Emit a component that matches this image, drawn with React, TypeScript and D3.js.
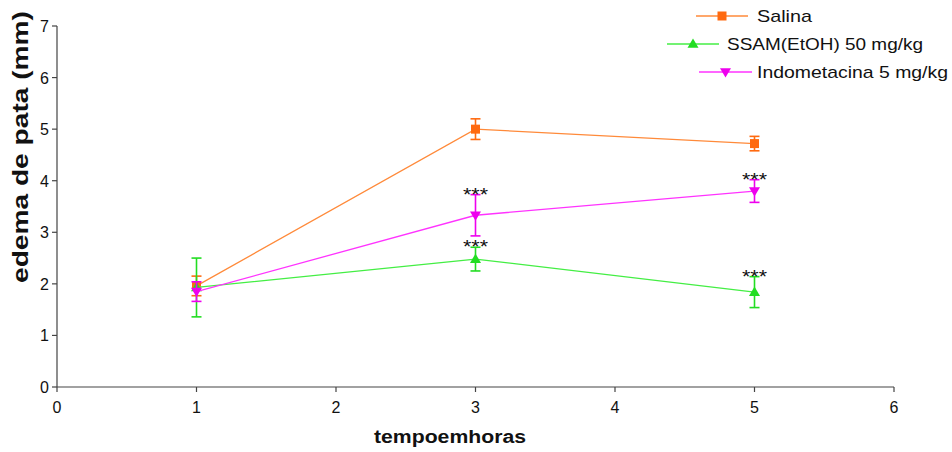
import React from "react";
import * as d3 from "d3";

// Sampling times (hours)
const hours = [1, 3, 5];

// Paw edema (mm) per group, mean and error
const salina = [1.96, 5.0, 4.72];
const salinaErr = [0.19, 0.2, 0.14];
const ssam = [1.93, 2.48, 1.84];
const ssamErr = [0.57, 0.23, 0.3];
const indo = [1.85, 3.33, 3.8];
const indoErr = [0.19, 0.4, 0.22];

// Significance marks vs. saline
const ssamSig = ["", "***", "***"];
const indoSig = ["", "***", "***"];

const xTicks = [0, 1, 2, 3, 4, 5, 6];
const yTicks = [0, 1, 2, 3, 4, 5, 6, 7];

const seriesNames = ["Salina", "SSAM(EtOH) 50 mg/kg", "Indometacina 5 mg/kg"];

const W = 952;
const H = 452;
const x = d3.scaleLinear().domain([0, 6]).range([57, 894]);
const y = d3.scaleLinear().domain([0, 7]).range([387, 26]);

const FONT = "'Liberation Sans', Arial, sans-serif";

type Series = {
  name: string;
  values: number[];
  errs: number[];
  sig: string[] | null;
  line: string;
  fill: string;
  marker: "square" | "up" | "down";
  legend: { x1: number; x2: number; y: number; tx: number; tw: number };
};

const series: Series[] = [
  {
    name: seriesNames[0],
    values: salina,
    errs: salinaErr,
    sig: null,
    line: "#ff8a3a",
    fill: "#ff6a10",
    marker: "square",
    legend: { x1: 696, x2: 748, y: 16, tx: 757, tw: 55 },
  },
  {
    name: seriesNames[1],
    values: ssam,
    errs: ssamErr,
    sig: ssamSig,
    line: "#44ee44",
    fill: "#22dd22",
    marker: "up",
    legend: { x1: 667, x2: 719, y: 44, tx: 727, tw: 196 },
  },
  {
    name: seriesNames[2],
    values: indo,
    errs: indoErr,
    sig: indoSig,
    line: "#ff33ff",
    fill: "#ee00ee",
    marker: "down",
    legend: { x1: 699, x2: 752, y: 72, tx: 757, tw: 191 },
  },
];

function Marker({ kind, cx, cy, fill }: { kind: Series["marker"]; cx: number; cy: number; fill: string }) {
  if (kind === "square") {
    return <rect x={cx - 4.5} y={cy - 4.5} width={9} height={9} fill={fill} />;
  }
  const s = 5.5;
  const pts =
    kind === "up"
      ? `${cx},${cy - s} ${cx - s},${cy + s * 0.7} ${cx + s},${cy + s * 0.7}`
      : `${cx},${cy + s} ${cx - s},${cy - s * 0.7} ${cx + s},${cy - s * 0.7}`;
  return <polygon points={pts} fill={fill} />;
}

export default function App() {
  const line = d3
    .line<number>()
    .x((_, i) => x(hours[i]))
    .y((d) => y(d));

  return (
    <svg
      width={W}
      height={H}
      style={{ position: "absolute", left: 0, top: 0, background: "#fff" }}
      fontFamily={FONT}
    >
      {/* axes */}
      <g stroke="#444" strokeWidth={1.2} fill="none">
        <line x1={x(0)} x2={x(0)} y1={y(0)} y2={y(7)} />
        <line x1={x(0)} x2={x(6)} y1={y(0)} y2={y(0)} />
        {yTicks.map((t) => (
          <line key={"yt" + t} x1={x(0) - 5} x2={x(0)} y1={y(t)} y2={y(t)} />
        ))}
        {xTicks.map((t) => (
          <line key={"xt" + t} x1={x(t)} x2={x(t)} y1={y(0)} y2={y(0) + 5} />
        ))}
      </g>
      <g fontSize={16} fill="#111">
        {yTicks.map((t) => (
          <text key={"yl" + t} x={x(0) - 8} y={y(t) + 6} textAnchor="end">
            {t}
          </text>
        ))}
        {xTicks.map((t) => (
          <text key={"xl" + t} x={x(t)} y={y(0) + 26} textAnchor="middle">
            {t}
          </text>
        ))}
      </g>

      {/* axis titles */}
      <text
        transform="translate(28,147) rotate(-90)"
        textAnchor="middle"
        fontWeight="bold"
        fontSize={22}
        textLength={272}
        lengthAdjust="spacingAndGlyphs"
        fill="#111"
      >
        edema de pata (mm)
      </text>
      <text
        x={450}
        y={443}
        textAnchor="middle"
        fontWeight="bold"
        fontSize={18}
        textLength={152}
        lengthAdjust="spacingAndGlyphs"
        fill="#111"
      >
        tempoemhoras
      </text>

      {/* series */}
      {series.map((s) => (
        <g key={s.name}>
          <path d={line(s.values) ?? ""} fill="none" stroke={s.line} strokeWidth={1.3} />
          {s.values.map((v, i) => {
            const cx = x(hours[i]);
            const top = y(v + s.errs[i]);
            const bot = y(v - s.errs[i]);
            return (
              <g key={i}>
                <g stroke={s.fill} strokeWidth={1.6}>
                  <line x1={cx} x2={cx} y1={top} y2={bot} />
                  <line x1={cx - 5} x2={cx + 5} y1={top} y2={top} />
                  <line x1={cx - 5} x2={cx + 5} y1={bot} y2={bot} />
                </g>
                <Marker kind={s.marker} cx={cx} cy={y(v)} fill={s.fill} />
                {s.sig && s.sig[i] ? (
                  <text
                    x={cx}
                    y={top + 6}
                    textAnchor="middle"
                    fontSize={19}
                    fill="#111"
                    textLength={25}
                    lengthAdjust="spacingAndGlyphs"
                  >
                    {s.sig[i]}
                  </text>
                ) : null}
              </g>
            );
          })}
        </g>
      ))}

      {/* legend */}
      {series.map((s) => (
        <g key={"lg" + s.name}>
          <line
            x1={s.legend.x1}
            x2={s.legend.x2}
            y1={s.legend.y}
            y2={s.legend.y}
            stroke={s.line}
            strokeWidth={1.3}
          />
          <Marker kind={s.marker} cx={(s.legend.x1 + s.legend.x2) / 2} cy={s.legend.y} fill={s.fill} />
          <text
            x={s.legend.tx}
            y={s.legend.y + 6}
            fontSize={17}
            fill="#111"
            textLength={s.legend.tw}
            lengthAdjust="spacingAndGlyphs"
          >
            {s.name}
          </text>
        </g>
      ))}
    </svg>
  );
}
